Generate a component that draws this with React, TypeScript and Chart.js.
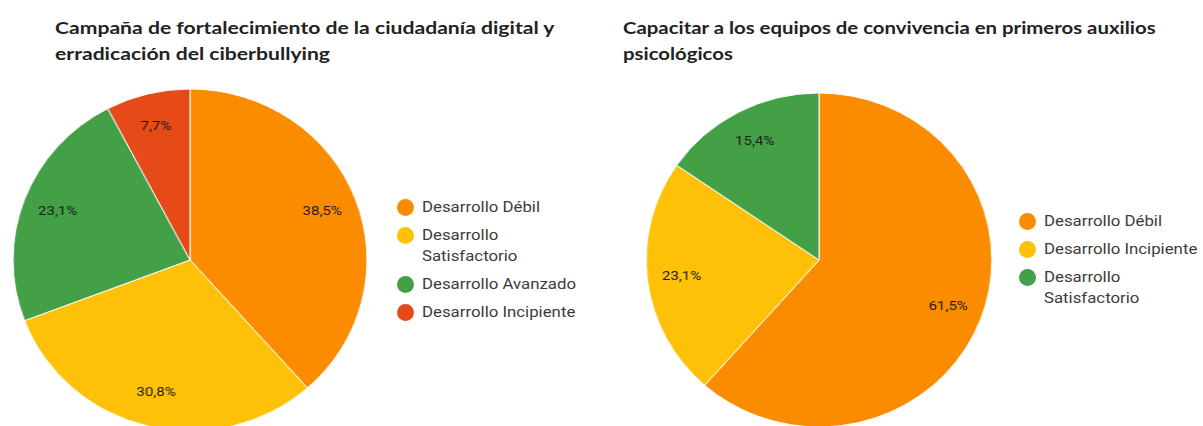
import React, { useEffect, useRef } from "react";
import { Chart, registerables } from "chart.js";

Chart.register(...registerables);

// ---------- data ----------
const leftTitle = [
  "Campaña de fortalecimiento de la ciudadanía digital y",
  "erradicación del ciberbullying",
];
const leftCategories = [
  "Desarrollo Débil",
  "Desarrollo Satisfactorio",
  "Desarrollo Avanzado",
  "Desarrollo Incipiente",
];
const leftValues = [38.5, 30.8, 23.1, 7.7];
const leftColors = ["#FB8C00", "#FFC107", "#43A047", "#E64A19"];

const rightTitle = [
  "Capacitar a los equipos de convivencia en primeros auxilios",
  "psicológicos",
];
const rightCategories = [
  "Desarrollo Débil",
  "Desarrollo Incipiente",
  "Desarrollo Satisfactorio",
];
const rightValues = [61.5, 23.1, 15.4];
const rightColors = ["#FB8C00", "#FFC107", "#43A047"];

const fmtPct = (v: number) => v.toFixed(1).replace(".", ",") + "%";

const TITLE_FONT = "700 17px Lato";

function measureText(text: string, font: string): number {
  const c = document.createElement("canvas").getContext("2d");
  if (!c) return 1;
  c.font = font;
  return c.measureText(text).width || 1;
}

const pctLabels = {
  id: "pctLabels",
  afterDatasetsDraw(chart: any) {
    const ctx = chart.ctx;
    const meta = chart.getDatasetMeta(0);
    const data = chart.data.datasets[0].data as number[];
    ctx.save();
    ctx.font = "13px Roboto";
    ctx.fillStyle = "#1a1a1a";
    ctx.textAlign = "center";
    ctx.textBaseline = "middle";
    meta.data.forEach((arc: any, i: number) => {
      const p = arc.getProps(["x", "y", "startAngle", "endAngle", "outerRadius"], true);
      const mid = (p.startAngle + p.endAngle) / 2;
      const d = p.outerRadius * 0.8;
      const lx = p.x + Math.cos(mid) * d;
      const ly = p.y + Math.sin(mid) * d;
      ctx.save();
      ctx.translate(lx, ly);
      ctx.scale(1.12, 1);
      ctx.fillText(fmtPct(data[i]), 0, 0);
      ctx.restore();
    });
    ctx.restore();
  },
};

function PieCanvas(props: {
  labels: string[];
  values: number[];
  colors: string[];
  size: number;
  radius: number;
}) {
  const ref = useRef<HTMLCanvasElement | null>(null);
  useEffect(() => {
    if (!ref.current) return;
    const chart = new Chart(ref.current, {
      type: "pie",
      data: {
        labels: props.labels,
        datasets: [
          {
            data: props.values,
            backgroundColor: props.colors,
            borderColor: "#ffffff",
            borderWidth: 1,
          },
        ],
      },
      options: {
        responsive: false,
        animation: false,
        radius: props.radius,
        events: [],
        layout: { padding: 0 },
        plugins: {
          legend: { display: false },
          tooltip: { enabled: false },
          title: { display: false },
        },
      } as any,
      plugins: [pctLabels as any],
    });
    return () => chart.destroy();
  }, []);
  return <canvas ref={ref} width={props.size} height={props.size} />;
}

function Legend(props: {
  labels: string[];
  colors: string[];
  left: number;
  top: number;
}) {
  return (
    <div
      style={{
        position: "absolute",
        left: props.left,
        top: props.top,
        fontFamily: "Roboto",
        fontSize: 15,
        lineHeight: "21px",
        color: "#3c3c3c",
      }}
    >
      {props.labels.map((l, i) => (
        <div key={i} style={{ position: "relative", marginBottom: 7, paddingLeft: 25 }}>
          <span
            style={{
              position: "absolute",
              left: 0,
              top: 2,
              width: 17,
              height: 17,
              borderRadius: "50%",
              background: props.colors[i],
            }}
          />
          <div
            style={{
              width: 150,
              transform: "scaleX(1.12)",
              transformOrigin: "left center",
              whiteSpace: "normal",
            }}
          >
            {l}
          </div>
        </div>
      ))}
    </div>
  );
}

function Title(props: { lines: string[]; left: number; top: number; width: number }) {
  const sx = props.width / measureText(props.lines[0], TITLE_FONT);
  return (
    <div
      style={{
        position: "absolute",
        left: props.left,
        top: props.top,
        font: TITLE_FONT,
        lineHeight: "26px",
        color: "#222222",
        whiteSpace: "nowrap",
        transform: `scaleX(${sx})`,
        transformOrigin: "left top",
      }}
    >
      {props.lines.map((l, i) => (
        <div key={i}>{l}</div>
      ))}
    </div>
  );
}

export default function App() {
  return (
    <div
      style={{
        position: "absolute",
        left: 0,
        top: 0,
        width: 1203,
        height: 426,
        overflow: "hidden",
        background: "#ffffff",
      }}
    >
      <Title lines={leftTitle} left={55} top={15} width={500} />
      <Title lines={rightTitle} left={623} top={15} width={533} />
      <div
        style={{
          position: "absolute",
          left: 10,
          top: 80,
          width: 360,
          height: 360,
          transform: "scaleX(1.035)",
          transformOrigin: "center center",
        }}
      >
        <PieCanvas labels={leftCategories} values={leftValues} colors={leftColors} size={360} radius={171} />
      </div>
      <div
        style={{
          position: "absolute",
          left: 644,
          top: 85,
          width: 350,
          height: 350,
          transform: "scaleX(1.035)",
          transformOrigin: "center center",
        }}
      >
        <PieCanvas labels={rightCategories} values={rightValues} colors={rightColors} size={350} radius={167} />
      </div>
      <Legend labels={leftCategories} colors={leftColors} left={397} top={197} />
      <Legend labels={rightCategories} colors={rightColors} left={1019} top={211} />
    </div>
  );
}
